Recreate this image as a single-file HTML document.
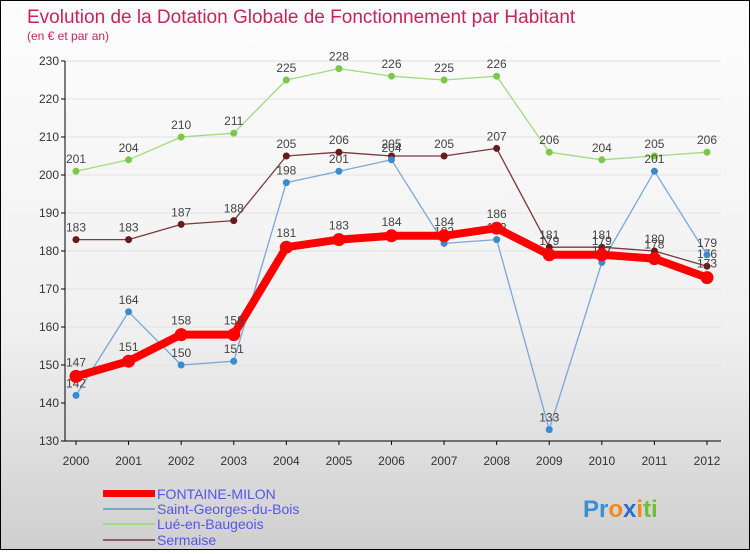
<!DOCTYPE html>
<html><head><meta charset="utf-8"><style>
body{margin:0;width:750px;height:550px;overflow:hidden;font-family:"Liberation Sans",sans-serif}
#wrap{position:relative;width:748px;height:548px;border:1px solid #000;background:linear-gradient(#fdfdfd,#f0f0f0 60%,#cfcfcf)}
</style></head><body>
<div id="wrap">
<svg id="svg" width="748" height="548" xmlns="http://www.w3.org/2000/svg">
<text x="26" y="22" font-size="19" fill="#c8245a">Evolution de la Dotation Globale de Fonctionnement par Habitant</text>
<text x="26" y="39" font-size="12" fill="#c8245a">(en € et par an)</text>
<g id="grid"></g><g id="axes"></g><g id="series"></g>
<g>
<rect x="102" y="489" width="52" height="7" fill="#f00"/>
<text x="156" y="498" font-size="14" fill="#5555ee">FONTAINE-MILON</text>
<rect x="102" y="507" width="52" height="2" fill="#7aa7c7"/>
<text x="156" y="513" font-size="14" fill="#5555ee">Saint-Georges-du-Bois</text>
<rect x="102" y="522" width="52" height="2" fill="#9fdc80"/>
<text x="156" y="528" font-size="14" fill="#5555ee">Lué-en-Baugeois</text>
<rect x="102" y="538" width="52" height="2" fill="#8a6060"/>
<text x="156" y="544" font-size="14" fill="#5555ee">Sermaise</text>
</g>
<text x="582" y="516" font-size="24" font-weight="bold"><tspan fill="#3a8ed8">Pr</tspan><tspan fill="#f08a20">o</tspan><tspan fill="#2a6fc8">x</tspan><tspan fill="#f08a20">i</tspan><tspan fill="#6bbf3a">ti</tspan></text>
</svg></div>
<script>
const years=[2000,2001,2002,2003,2004,2005,2006,2007,2008,2009,2010,2011,2012];
const fontaine=[147,151,158,158,181,183,184,184,186,179,179,178,173];
const saintGeorges=[142,164,150,151,198,201,204,182,183,133,177,201,179];
const lue=[201,204,210,211,225,228,226,225,226,206,204,205,206];
const sermaise=[183,183,187,188,205,206,205,205,207,181,181,180,176];
const yTicks=[130,140,150,160,170,180,190,200,210,220,230];
const NS="http://www.w3.org/2000/svg";
const X=i=>75+i*(706-75)/(years.length-1);
const Y=v=>440-(v-130)*(440-60)/100;
function mk(tag,attrs,parent){const e=document.createElementNS(NS,tag);for(const k in attrs)e.setAttribute(k,attrs[k]);parent.appendChild(e);return e;}
const grid=document.getElementById('grid'),axes=document.getElementById('axes'),ser=document.getElementById('series');
yTicks.forEach(t=>{
 const l=mk('line',{x1:64,x2:720,y1:Y(t),y2:Y(t),stroke:'#e2e2e2','stroke-width':1},grid);
 
 
 const tx=mk('text',{x:58,y:Y(t)+4,'font-size':12,fill:'#333','text-anchor':'end'},axes);
 tx.textContent=t;
 
 
 mk('line',{x1:60,x2:64,y1:Y(t),y2:Y(t),stroke:'#000'},axes);
});
mk('line',{x1:64,x2:64,y1:60,y2:440,stroke:'#000'},axes);
mk('line',{x1:64,x2:720,y1:440,y2:440,stroke:'#000'},axes);
years.forEach((yr,i)=>{
 mk('line',{x1:X(i),x2:X(i),y1:440,y2:444,stroke:'#000'},axes);
 const tx=mk('text',{x:X(i),y:464,'font-size':12,fill:'#333','text-anchor':'middle'},axes);
 tx.textContent=yr;
 
 
});
function draw(name,vals,color,w,r,dot,lab){
 const g=mk('g',{},ser);
 
 
 const pl=mk('polyline',{points:vals.map((v,i)=>X(i)+','+Y(v)).join(' '),fill:'none',stroke:color,'stroke-width':w,'stroke-linejoin':'round'},g);
 
 
 vals.forEach((v,i)=>{
  const c=mk('circle',{cx:X(i),cy:Y(v),r:r,fill:dot},g);
  
  
  const t=mk('text',{x:X(i),y:Y(v)-(lab),'font-size':12,fill:'#444','text-anchor':'middle'},g);
  t.textContent=v;
  
  
 });
}
draw('lue',lue,'#9fdc80',1.3,3.5,'#7cc84a',8);
draw('sermaise',sermaise,'#7a3a3a',1.3,3.5,'#6a1a1a',8);
draw('saint-georges',saintGeorges,'#7aa7d7',1.3,3.5,'#3a8ad0',8);
draw('fontaine-milon',fontaine,'#f00',8,6.5,'#f00',10);
</script></body></html>
